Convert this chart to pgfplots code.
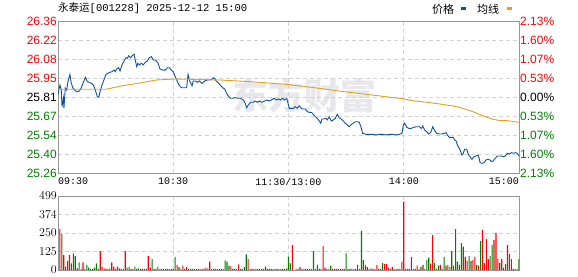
\documentclass[border=0pt]{standalone}
\usepackage{pgfplots}
\pgfplotsset{compat=1.18}
\usepackage{fontspec}
\setmainfont{Liberation Sans}
\newfontfamily\cjk{Noto Sans CJK SC}
\newfontfamily\mono{Liberation Mono}
\definecolor{cred}{RGB}{255,0,0}
\definecolor{cgreen}{RGB}{0,128,0}
\definecolor{cblue}{RGB}{16,80,160}
\definecolor{corange}{RGB}{225,160,30}
\definecolor{gridc}{RGB}{210,210,210}
\definecolor{borderc}{RGB}{150,150,150}
\definecolor{wmark}{RGB}{232,232,236}
\begin{document}
\begin{tikzpicture}
\useasboundingbox (0pt,0pt) rectangle (578pt,276pt);
% watermark
\node[font=\cjk\bfseries\fontsize{36}{36}\selectfont, text=wmark] at (304pt,180pt) {东方财富};
% header
\node[anchor=west, inner sep=0pt, font=\fontsize{10.5}{11}\selectfont] at (58pt,268pt) {{\cjk 永泰运}{\mono [001228] 2025-12-12 15:00}};
\node[anchor=west, inner sep=0pt, font=\cjk\fontsize{11}{11}\selectfont] at (432pt,267pt) {价格};
\fill[cblue] (461pt,266pt) rectangle (466pt,268.5pt);
\node[anchor=west, inner sep=0pt, font=\cjk\fontsize{11}{11}\selectfont] at (477pt,267pt) {均线};
\fill[corange] (507pt,266pt) rectangle (512pt,268.5pt);

\begin{axis}[
  at={(58pt,103pt)}, anchor=south west, scale only axis,
  width=461pt, height=152pt,
  xmin=0, xmax=240, ymin=25.26, ymax=26.36,
  axis line style={draw=borderc, line width=0.8pt},
  major tick length=0pt,
  xtick={60,120,180},
  xticklabels={10:30,11:30/13:00,14:00},
  extra x ticks={0,240},
  extra x tick labels={\makebox[0pt][l]{09:30},\makebox[0pt][r]{15:00}},
  extra x tick style={grid=none},
  xticklabel style={font=\mono\fontsize{10}{10}\selectfont, inner sep=1pt, yshift=-4pt},
  ytick={25.3975,25.535,25.6725,25.81,25.9475,26.085,26.2225},
  yticklabels={\textcolor{cgreen}{25.40},\textcolor{cgreen}{25.54},\textcolor{cgreen}{25.67},25.81,\textcolor{cred}{25.95},\textcolor{cred}{26.08},\textcolor{cred}{26.22}},
  extra y ticks={25.26,26.36},
  extra y tick labels={\textcolor{cgreen}{25.26},\textcolor{cred}{26.36}},
  extra y tick style={grid=none},
  yticklabel style={font=\fontsize{12}{12}\selectfont, inner sep=1pt},
  grid=major,
  major grid style={draw=gridc, dash pattern=on 4pt off 3pt, line width=0.7pt},
]
\addplot[cblue, line width=0.9pt] coordinates {
(0,25.83)(1.0,25.897)(1.7,25.861)(2.1,25.74)(2.8,25.803)(3.1,25.73)(3.8,25.875)(4.5,25.861)(5.2,25.921)(6.2,25.974)(6.9,25.911)(7.7,25.877)(8.7,25.861)(9.7,25.848)(11.1,25.853)(12.1,25.875)(13.2,25.916)(14.2,25.953)(15.3,25.921)(16.3,25.916)(17.3,25.909)(18.4,25.897)(19.4,25.861)(20.5,25.812)(21.2,25.808)(21.9,25.848)(22.9,25.897)(23.9,25.933)(25.0,25.974)(26.0,25.982)(27.1,25.989)(28.1,25.993)(29.2,26.005)(29.8,25.993)(30.6,26.013)(31.6,26.022)(32.3,25.998)(33.3,26.042)(34.4,26.071)(35.4,26.094)(36.1,26.09)(36.8,26.109)(37.8,26.094)(38.9,26.114)(39.6,26.119)(40.2,26.078)(41.0,26.029)(41.6,26.054)(42.3,26.042)(43.4,26.054)(44.4,26.042)(45.4,26.061)(46.5,26.071)(47.5,26.094)(48.6,26.102)(49.6,26.078)(50.7,26.078)(52.1,26.054)(53.1,26.013)(54.5,26.005)(55.9,26.005)(56.9,26.022)(57.9,26.022)(59.0,26.005)(60.0,25.993)(61.4,25.945)(62.8,25.902)(64.2,25.877)(66.0,25.877)(67.0,25.877)(67.7,25.974)(68.7,25.921)(69.8,25.892)(70.4,25.926)(71.5,25.926)(72.5,25.916)(73.6,25.926)(75.0,25.909)(76.4,25.926)(77.7,25.933)(79.1,25.933)(80.2,25.94)(81.2,25.95)(82.3,25.926)(83.7,25.909)(84.7,25.892)(85.7,25.877)(86.8,25.868)(87.8,25.837)(88.9,25.812)(89.9,25.801)(90.9,25.801)(92.3,25.805)(93.7,25.801)(95.1,25.801)(96.5,25.788)(97.5,25.764)(98.2,25.733)(99.3,25.757)(100.3,25.772)(101.7,25.772)(102.7,25.781)(103.8,25.772)(104.8,25.781)(106.2,25.772)(107.6,25.781)(108.7,25.788)(110.0,25.781)(111.0,25.788)(112.5,25.801)(113.5,25.788)(114.9,25.796)(115.9,25.788)(117.0,25.801)(118.0,25.788)(119.1,25.801)
(120.4,25.728)(121.5,25.728)(122.5,25.728)(123.5,25.740)(124.6,25.728)(125.6,25.747)(126.7,25.728)(127.7,25.723)(128.7,25.723)(129.8,25.704)(130.8,25.699)(131.9,25.699)(132.9,25.685)(134.0,25.667)(135.0,25.656)(136.0,25.636)(136.8,25.620)(137.4,25.651)(138.5,25.651)(139.5,25.656)(140.2,25.644)(141.2,25.667)(142.3,25.636)(143.3,25.644)(144.4,25.656)(145.4,25.685)(146.4,25.660)(147.5,25.651)(148.5,25.636)(149.6,25.620)(150.6,25.607)(151.7,25.595)(152.7,25.612)(153.7,25.620)(154.8,25.631)(155.8,25.631)(156.9,25.627)(157.9,25.584)(158.6,25.547)(160.3,25.540)(162.1,25.540)(163.8,25.540)(165.6,25.535)(167.3,25.540)(169.0,25.540)(170.8,25.535)(172.5,25.540)(174.2,25.540)(176.0,25.535)(177.7,25.540)(179.1,25.547)(179.8,25.607)(180.5,25.620)(181.5,25.591)(182.6,25.583)(183.9,25.583)(185.3,25.591)(186.7,25.595)(188.1,25.595)(189.1,25.583)(189.9,25.600)(190.9,25.571)(191.9,25.559)(193.0,25.542)(194.0,25.552)(195.1,25.595)(196.1,25.566)(197.2,25.547)(198.5,25.542)(199.9,25.542)(201.0,25.547)(202.0,25.552)(202.7,25.535)(203.7,25.518)(204.8,25.518)(205.8,25.518)(206.5,25.499)(207.2,25.494)(207.9,25.463)(208.6,25.446)(209.3,25.427)(210.3,25.390)(211.0,25.403)(211.7,25.432)(212.8,25.432)(213.5,25.398)(214.5,25.378)(215.5,25.359)(216.6,25.378)(217.6,25.383)(218.7,25.390)(219.3,25.366)(219.7,25.335)(220.7,25.330)(221.8,25.335)(222.8,25.354)(223.9,25.359)(224.9,25.354)(225.6,25.342)(226.6,25.349)(227.7,25.366)(228.7,25.383)(229.7,25.383)(230.8,25.383)(231.8,25.378)(232.9,25.383)(233.9,25.403)(235.0,25.398)(236.0,25.407)(237.0,25.403)(238.1,25.407)(239.1,25.403)(240,25.383)
};
\addplot[corange, line width=0.9pt] coordinates {
(0,25.866)(25.0,25.866)(33.7,25.892)(42.7,25.911)(51.0,25.933)(60.9,25.940)(84.3,25.933)(100,25.921)(118.7,25.902)(135.9,25.873)(146.3,25.853)(160.3,25.830)(170.8,25.812)(180.1,25.796)(184.8,25.783)(193.7,25.769)(198.9,25.759)(205.6,25.745)(210.8,25.728)(216.1,25.704)(221.3,25.673)(226.5,25.649)(230.1,25.639)(233.8,25.639)(240,25.627)
};
\end{axis}

% right percentage axis
\begin{axis}[
  at={(58pt,103pt)}, anchor=south west, scale only axis,
  width=461pt, height=152pt,
  xmin=0, xmax=240, ymin=25.26, ymax=26.36,
  axis line style={draw=none}, xtick=\empty,
  major tick length=0pt,
  yticklabel pos=right,
  ytick={25.26,25.3975,25.535,25.6725,25.81,25.9475,26.085,26.2225,26.36},
  yticklabels={\textcolor{cgreen}{2.13\%},\textcolor{cgreen}{1.60\%},\textcolor{cgreen}{1.07\%},\textcolor{cgreen}{0.53\%},0.00\%,\textcolor{cred}{0.53\%},\textcolor{cred}{1.07\%},\textcolor{cred}{1.60\%},\textcolor{cred}{2.13\%}},
  yticklabel style={font=\fontsize{12}{12}\selectfont, inner sep=1pt, anchor=west},
]
\addplot[draw=none] coordinates {(0,25.81)};
\end{axis}

% volume axis
\begin{axis}[
  at={(58pt,6pt)}, anchor=south west, scale only axis,
  width=461pt, height=74pt,
  xmin=0, xmax=240, ymin=0, ymax=499,
  axis line style={draw=borderc, line width=0.8pt},
  major tick length=0pt,
  xtick={60,120,180}, xticklabels={},
  ytick={125,250,374},
  extra y ticks={0,499}, extra y tick style={grid=none},
  yticklabel style={font=\fontsize{12}{12}\selectfont, inner sep=1pt},
  grid=major,
  major grid style={draw=gridc, dash pattern=on 4pt off 3pt, line width=0.7pt},
]
\addplot[ybar, bar width=1.1pt, bar shift=0pt, fill=cred, draw=none] coordinates {
(1,276)(3,101)(4,22)(5,61)(6,101)(10,11)(12,7)(13,52)(21,7)(22,128)(23,22)(24,11)(25,7)(26,7)(28,52)(29,22)(30,7)(31,22)(34,7)(35,128)(38,7)(39,7)(43,7)(44,7)(46,7)(47,94)(48,16)(50,7)(51,7)(53,7)(54,7)(58,7)(60,7)(62,34)(64,7)(65,29)(66,7)(67,20)(68,7)(71,7)(73,7)(74,7)(76,7)(77,16)(78,11)(79,56)(86,7)(90,25)(92,7)(93,7)(94,38)(99,74)(100,7)(101,7)(103,7)(105,7)(107,7)(110,7)(112,7)(114,7)(116,7)(118,7)(122,169)(124,7)(126,20)(128,7)(131,7)(132,7)(134,7)(137,7)(138,162)(139,16)(140,7)(141,7)(143,7)(144,7)(145,7)(146,7)(148,7)(149,7)(153,7)(154,7)(156,34)(157,7)(160,34)(161,20)(162,7)(164,7)(165,7)(166,34)(167,7)(170,40)(171,40)(172,16)(173,7)(174,20)(175,7)(176,7)(177,7)(178,7)(179,56)(180,461)(184,88)(185,7)(186,7)(187,29)(188,7)(190,34)(194,43)(195,236)(197,7)(199,34)(200,7)(202,29)(204,20)(206,29)(209,34)(212,88)(213,61)(216,67)(217,88)(219,29)(221,270)(222,47)(223,209)(224,74)(227,202)(228,249)(229,74)(231,74)(232,16)(234,169)(236,74)(237,7)(238,7)
};
\addplot[ybar, bar width=1.1pt, bar shift=0pt, fill=cgreen, draw=none] coordinates {
(2,243)(7,45)(8,112)(9,94)(11,52)(14,7)(15,34)(16,16)(17,7)(18,7)(19,16)(20,45)(27,11)(32,11)(33,7)(36,16)(37,22)(40,22)(41,7)(42,11)(45,7)(49,74)(52,22)(55,7)(56,7)(57,7)(59,7)(61,88)(63,20)(69,7)(70,7)(72,7)(75,7)(80,7)(81,7)(82,7)(83,7)(84,7)(85,7)(87,65)(88,56)(89,29)(91,7)(95,7)(96,7)(97,20)(98,106)(102,7)(104,7)(106,7)(108,22)(109,7)(111,7)(113,7)(115,7)(117,7)(119,11)(120,90)(121,45)(125,7)(127,7)(129,7)(130,7)(133,128)(135,34)(136,7)(142,27)(147,7)(150,112)(151,7)(152,7)(155,7)(158,263)(159,67)(163,11)(168,7)(169,47)(181,7)(182,7)(183,7)(189,22)(191,7)(192,67)(193,83)(196,47)(198,29)(201,88)(203,34)(205,128)(207,276)(208,56)(210,182)(211,157)(214,94)(215,61)(218,34)(220,195)(225,94)(226,169)(230,47)(233,40)(235,108)(239,7)(240,74)
};
\end{axis}
\end{tikzpicture}
\end{document}
